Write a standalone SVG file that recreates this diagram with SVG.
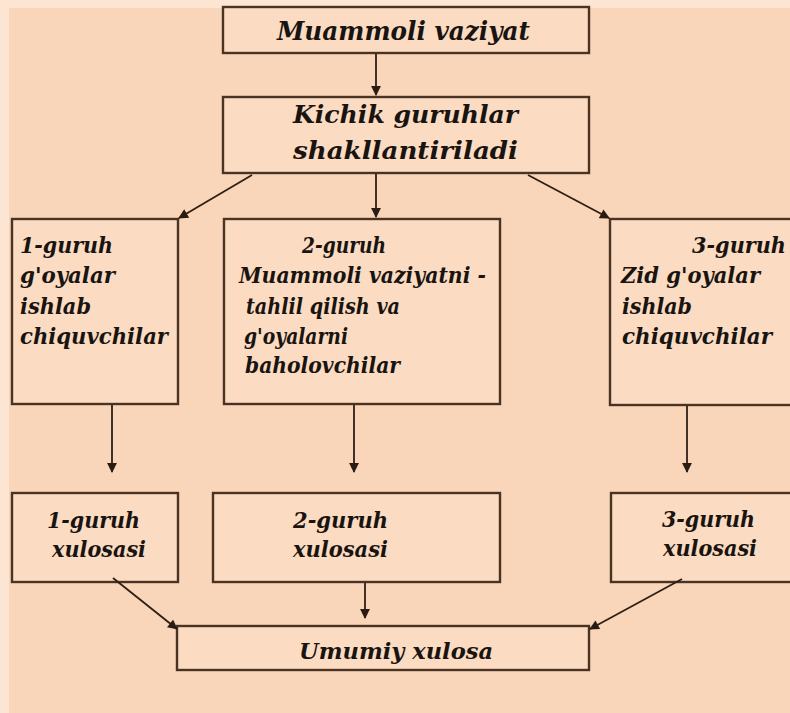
<svg xmlns="http://www.w3.org/2000/svg" width="790" height="713" viewBox="0 0 790 713">
<defs>
<marker id="ah" viewBox="0 0 10 10" refX="9" refY="5" markerWidth="6" markerHeight="5.5" orient="auto" markerUnits="strokeWidth">
<path d="M0,0 L10,5 L0,10 z" fill="#2a1c12"/>
</marker>
<style>
.box{fill:#fbdcc3;stroke:#4a3322;stroke-width:2.4}
.t{font-family:"DejaVu Serif","Liberation Serif",serif;font-weight:bold;font-style:italic;fill:#1a1410}
.big{font-size:26px}
.k{font-size:25px}
.mid{font-size:22px}
.sm{font-size:22px}
.c{stroke:#2e1f15;stroke-width:1.8;fill:none;marker-end:url(#ah)}
</style>
</defs>
<rect x="0" y="0" width="790" height="713" fill="#fce6d3"/>
<rect x="9" y="8" width="790" height="713" fill="#f9d6b9"/>
<g id="n-muammoli">
<rect class="box" x="223" y="7" width="366" height="46"/>
<text class="t big" x="277" y="40" textLength="253" lengthAdjust="spacingAndGlyphs">Muammoli vaziyat</text>
</g>
<g id="n-kichik">
<rect class="box" x="223" y="97" width="366" height="76"/>
<text class="t k" x="293" y="123" textLength="225" lengthAdjust="spacingAndGlyphs">Kichik guruhlar</text>
<text class="t k" x="293" y="159" textLength="225" lengthAdjust="spacingAndGlyphs">shakllantiriladi</text>
</g>
<g id="n-g1">
<rect class="box" x="12" y="219" width="166" height="185"/>
<text class="t mid" x="20" y="253" textLength="93" lengthAdjust="spacingAndGlyphs">1-guruh</text>
<text class="t mid" x="20" y="283" textLength="95" lengthAdjust="spacingAndGlyphs">g'oyalar</text>
<text class="t mid" x="20" y="314" textLength="71" lengthAdjust="spacingAndGlyphs">ishlab</text>
<text class="t mid" x="20" y="344" textLength="148" lengthAdjust="spacingAndGlyphs">chiquvchilar</text>
</g>
<g id="n-g2">
<rect class="box" x="224" y="219" width="276" height="185"/>
<text class="t mid" x="302" y="253" textLength="84" lengthAdjust="spacingAndGlyphs">2-guruh</text>
<text class="t mid" x="239" y="283" textLength="247" lengthAdjust="spacingAndGlyphs">Muammoli vaziyatni -</text>
<text class="t mid" x="246" y="314" textLength="154" lengthAdjust="spacingAndGlyphs">tahlil qilish va</text>
<text class="t mid" x="244" y="344" textLength="104" lengthAdjust="spacingAndGlyphs">g'oyalarni</text>
<text class="t mid" x="245" y="373" textLength="155" lengthAdjust="spacingAndGlyphs">baholovchilar</text>
</g>
<g id="n-g3">
<rect class="box" x="610" y="219" width="200" height="186"/>
<text class="t mid" x="692" y="253" textLength="94" lengthAdjust="spacingAndGlyphs">3-guruh</text>
<text class="t mid" x="621" y="283" textLength="139" lengthAdjust="spacingAndGlyphs">Zid g'oyalar</text>
<text class="t mid" x="622" y="314" textLength="70" lengthAdjust="spacingAndGlyphs">ishlab</text>
<text class="t mid" x="622" y="344" textLength="150" lengthAdjust="spacingAndGlyphs">chiquvchilar</text>
</g>
<g id="n-x1">
<rect class="box" x="12" y="493" width="166" height="89"/>
<text class="t sm" x="47" y="528" textLength="93" lengthAdjust="spacingAndGlyphs">1-guruh</text>
<text class="t sm" x="52" y="557" textLength="94" lengthAdjust="spacingAndGlyphs">xulosasi</text>
</g>
<g id="n-x2">
<rect class="box" x="213" y="493" width="287" height="89"/>
<text class="t sm" x="293" y="528" textLength="95" lengthAdjust="spacingAndGlyphs">2-guruh</text>
<text class="t sm" x="293" y="557" textLength="95" lengthAdjust="spacingAndGlyphs">xulosasi</text>
</g>
<g id="n-x3">
<rect class="box" x="611" y="493" width="200" height="89"/>
<text class="t sm" x="662" y="527" textLength="93" lengthAdjust="spacingAndGlyphs">3-guruh</text>
<text class="t sm" x="663" y="556" textLength="94" lengthAdjust="spacingAndGlyphs">xulosasi</text>
</g>
<g id="n-umumiy">
<rect class="box" x="177" y="626" width="412" height="44"/>
<text class="t sm" x="299" y="659" textLength="194" lengthAdjust="spacingAndGlyphs">Umumiy xulosa</text>
</g>
<g id="connectors">
<line class="c" x1="376" y1="54" x2="376" y2="95"/>
<line class="c" x1="376" y1="174" x2="376" y2="217"/>
<line class="c" x1="252" y1="175" x2="179" y2="218"/>
<line class="c" x1="528" y1="175" x2="609" y2="218"/>
<line class="c" x1="112" y1="405" x2="112" y2="472"/>
<line class="c" x1="354" y1="405" x2="354" y2="472"/>
<line class="c" x1="687" y1="406" x2="687" y2="472"/>
<line class="c" x1="113" y1="578" x2="177" y2="629"/>
<line class="c" x1="365" y1="583" x2="365" y2="618"/>
<line class="c" x1="682" y1="579" x2="590" y2="629"/>
</g>
</svg>
